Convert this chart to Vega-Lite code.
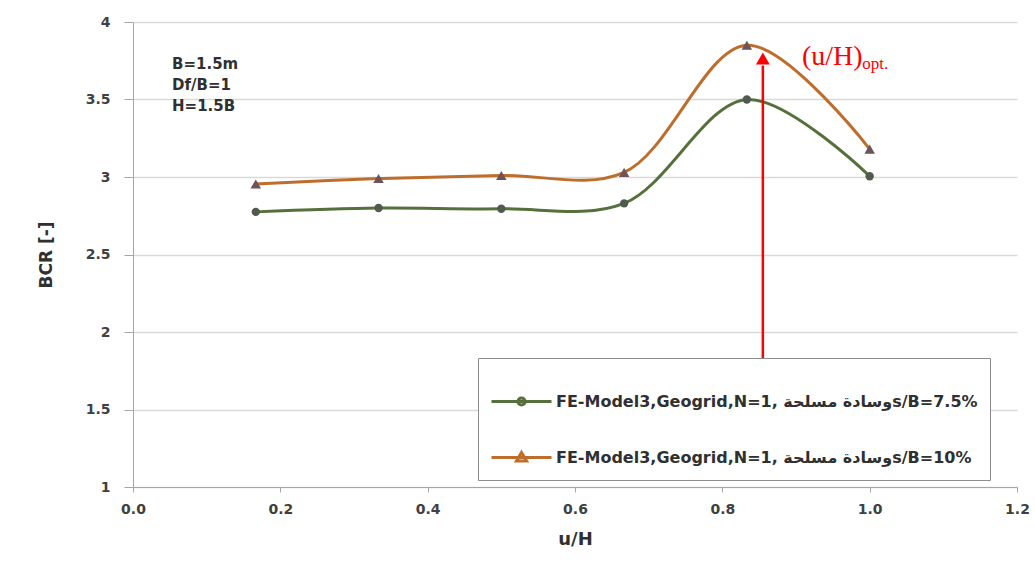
{
  "$schema": "https://vega.github.io/schema/vega-lite/v6.json",
  "width": 884,
  "height": 465,
  "autosize": {"type": "none"},
  "padding": {"left": 133, "top": 22, "right": 18, "bottom": 82},
  "background": "white",
  "config": {
    "view": {"stroke": null},
    "font": "DejaVu Sans",
    "axis": {
      "labelFont": "DejaVu Sans",
      "labelFontWeight": "bold",
      "labelFontSize": 14,
      "labelColor": "#404040",
      "titleFont": "DejaVu Sans",
      "titleFontWeight": "bold",
      "titleColor": "#303030",
      "domainColor": "#a6a6a6",
      "tickColor": "#a6a6a6",
      "gridColor": "#d9d9d9",
      "gridWidth": 1.5
    }
  },
  "datasets": {
    "series": [
      {"uH": 0.1667, "BCR": 2.775, "series": "FE-Model3,Geogrid,N=1, وسادة مسلحةs/B=7.5%"},
      {"uH": 0.3333, "BCR": 2.80, "series": "FE-Model3,Geogrid,N=1, وسادة مسلحةs/B=7.5%"},
      {"uH": 0.5, "BCR": 2.795, "series": "FE-Model3,Geogrid,N=1, وسادة مسلحةs/B=7.5%"},
      {"uH": 0.6667, "BCR": 2.83, "series": "FE-Model3,Geogrid,N=1, وسادة مسلحةs/B=7.5%"},
      {"uH": 0.8333, "BCR": 3.50, "series": "FE-Model3,Geogrid,N=1, وسادة مسلحةs/B=7.5%"},
      {"uH": 1.0, "BCR": 3.005, "series": "FE-Model3,Geogrid,N=1, وسادة مسلحةs/B=7.5%"},
      {"uH": 0.1667, "BCR": 2.955, "series": "FE-Model3,Geogrid,N=1, وسادة مسلحةs/B=10%"},
      {"uH": 0.3333, "BCR": 2.99, "series": "FE-Model3,Geogrid,N=1, وسادة مسلحةs/B=10%"},
      {"uH": 0.5, "BCR": 3.01, "series": "FE-Model3,Geogrid,N=1, وسادة مسلحةs/B=10%"},
      {"uH": 0.6667, "BCR": 3.03, "series": "FE-Model3,Geogrid,N=1, وسادة مسلحةs/B=10%"},
      {"uH": 0.8333, "BCR": 3.85, "series": "FE-Model3,Geogrid,N=1, وسادة مسلحةs/B=10%"},
      {"uH": 1.0, "BCR": 3.18, "series": "FE-Model3,Geogrid,N=1, وسادة مسلحةs/B=10%"}
    ],
    "params": [
      {"x": 0.053, "y": 3.729, "label": "B=1.5m"},
      {"x": 0.053, "y": 3.594, "label": "Df/B=1"},
      {"x": 0.053, "y": 3.458, "label": "H=1.5B"}
    ],
    "arrow": [
      {"x": 0.855, "y": 1.70, "y2": 3.72, "tipY": 3.765}
    ],
    "opt": [
      {"x": 0.908, "y": 3.72, "main": "(u/H)", "sx": 0.99, "sy": 3.70, "sub": "opt."}
    ]
  },
  "layer": [
    {
      "data": {"name": "series"},
      "mark": {"type": "line", "interpolate": "catmull-rom", "strokeWidth": 3},
      "encoding": {
        "x": {
          "field": "uH", "type": "quantitative",
          "scale": {"domain": [0, 1.2], "nice": false, "zero": false},
          "axis": {
            "title": "u/H", "titleFontSize": 18, "titlePadding": 14,
            "values": [0, 0.2, 0.4, 0.6, 0.8, 1.0, 1.2], "format": ".1f",
            "grid": false, "tickSize": 5, "labelPadding": 10,
            "labelFlush": false
          }
        },
        "y": {
          "field": "BCR", "type": "quantitative",
          "scale": {"domain": [1, 4], "nice": false, "zero": false},
          "axis": {
            "title": "BCR  [-]", "titleFontSize": 17, "titlePadding": 30,
            "values": [1, 1.5, 2, 2.5, 3, 3.5, 4],
            "labelExpr": "'' + datum.value",
            "tickSize": 9, "labelPadding": 14, "domain": true
          }
        },
        "color": {
          "field": "series", "type": "nominal",
          "sort": ["FE-Model3,Geogrid,N=1, وسادة مسلحةs/B=7.5%", "FE-Model3,Geogrid,N=1, وسادة مسلحةs/B=10%"],
          "scale": {"range": ["#56703c", "#bd6d2c"]},
          "legend": {
            "title": null,
            "orient": "none",
            "legendX": 345,
            "legendY": 336,
            "direction": "vertical",
            "padding": 12,
            "strokeColor": "#8c8c8c",
            "fillColor": "white",
            "symbolType": "M-1,0H1",
            "symbolSize": 3600,
            "symbolStrokeWidth": 3,
            "rowPadding": 14,
            "labelOffset": 3,
            "labelFont": "DejaVu Sans",
            "labelFontWeight": "bold",
            "labelFontSize": 16,
            "labelColor": "#303030",
            "labelLimit": 600,
            "encode": {
              "symbols": {
                "update": {
                  "shape": {"signal": "indexof(datum.label, '10%') >= 0 ? 'M-1,0H1M0,-0.17L0.17,0.12L-0.17,0.12Z' : 'M-1,0H1M-0.12,0A0.12,0.12,0,1,0,0.12,0A0.12,0.12,0,1,0,-0.12,0'"}
                }
              }
            }
          }
        }
      }
    },
    {
      "data": {"name": "series"},
      "mark": {"type": "point", "filled": true, "opacity": 1},
      "encoding": {
        "x": {"field": "uH", "type": "quantitative"},
        "y": {"field": "BCR", "type": "quantitative"},
        "shape": {
          "field": "series", "type": "nominal",
          "sort": ["FE-Model3,Geogrid,N=1, وسادة مسلحةs/B=7.5%", "FE-Model3,Geogrid,N=1, وسادة مسلحةs/B=10%"],
          "scale": {"range": ["circle", "triangle-up"]},
          "legend": null
        },
        "fill": {
          "field": "series", "type": "nominal",
          "sort": ["FE-Model3,Geogrid,N=1, وسادة مسلحةs/B=7.5%", "FE-Model3,Geogrid,N=1, وسادة مسلحةs/B=10%"],
          "scale": {"range": ["#525a50", "#6e5458"]},
          "legend": null
        },
        "size": {
          "field": "series", "type": "nominal",
          "sort": ["FE-Model3,Geogrid,N=1, وسادة مسلحةs/B=7.5%", "FE-Model3,Geogrid,N=1, وسادة مسلحةs/B=10%"],
          "scale": {"range": [70, 110]},
          "legend": null
        }
      }
    },
    {
      "data": {"name": "params"},
      "mark": {"type": "text", "align": "left", "baseline": "middle", "fontWeight": "bold", "fontSize": 15, "font": "DejaVu Sans", "color": "#303030"},
      "encoding": {
        "x": {"field": "x", "type": "quantitative"},
        "y": {"field": "y", "type": "quantitative"},
        "text": {"field": "label"}
      }
    },
    {
      "data": {"name": "arrow"},
      "mark": {"type": "rule", "color": "#ff0000", "strokeWidth": 2.5},
      "encoding": {
        "x": {"field": "x", "type": "quantitative"},
        "y": {"field": "y", "type": "quantitative"},
        "y2": {"field": "y2"}
      }
    },
    {
      "data": {"name": "arrow"},
      "mark": {"type": "point", "shape": "triangle-up", "filled": true, "color": "#ff0000", "size": 190, "opacity": 1},
      "encoding": {
        "x": {"field": "x", "type": "quantitative"},
        "y": {"field": "tipY", "type": "quantitative"}
      }
    },
    {
      "data": {"name": "opt"},
      "mark": {"type": "text", "align": "left", "baseline": "alphabetic", "font": "Liberation Serif", "fontSize": 28, "color": "#ff0000"},
      "encoding": {
        "x": {"field": "x", "type": "quantitative"},
        "y": {"field": "y", "type": "quantitative"},
        "text": {"field": "main"}
      }
    },
    {
      "data": {"name": "opt"},
      "mark": {"type": "text", "align": "left", "baseline": "alphabetic", "font": "Liberation Serif", "fontSize": 17, "color": "#ff0000"},
      "encoding": {
        "x": {"field": "sx", "type": "quantitative"},
        "y": {"field": "sy", "type": "quantitative"},
        "text": {"field": "sub"}
      }
    }
  ],
  "resolve": {"scale": {"color": "independent"}}
}
